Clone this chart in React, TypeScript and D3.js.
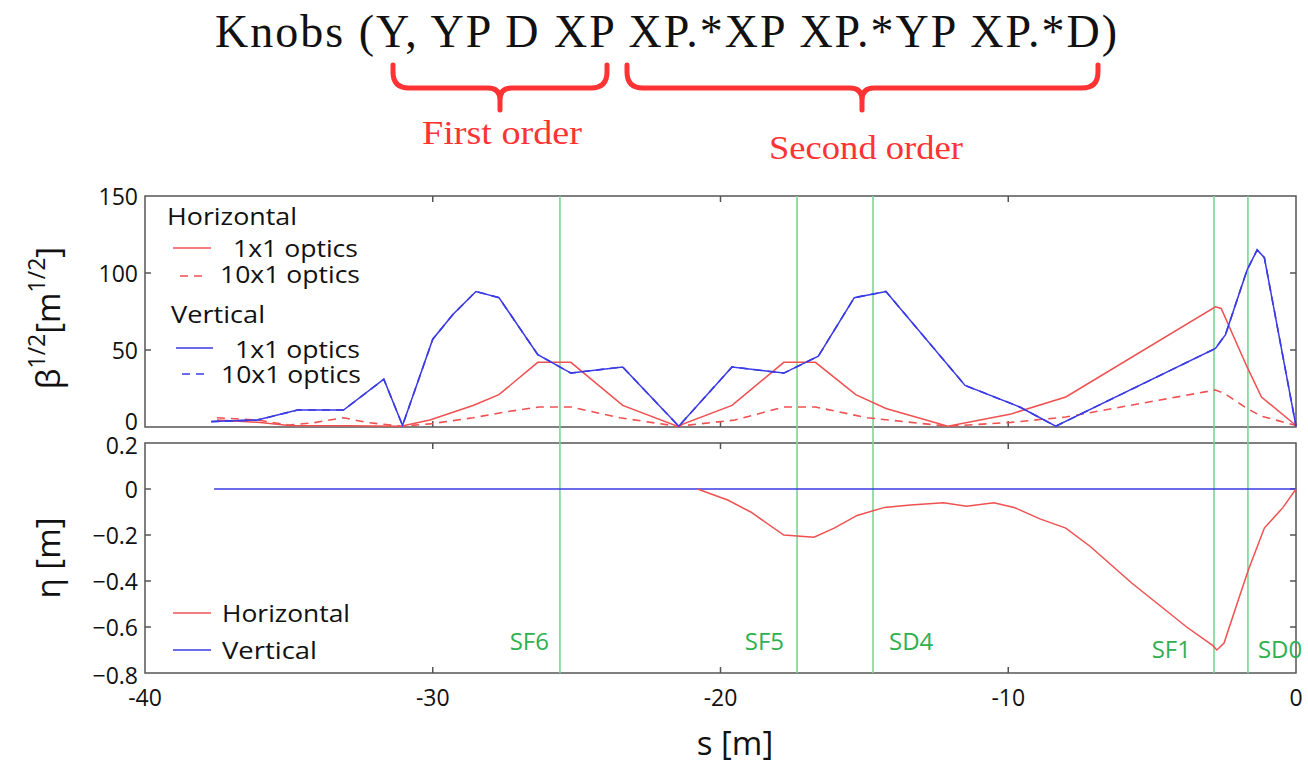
import React from "react";
import * as d3 from "d3";

// s positions [m] and square-root beta functions [m^1/2]
const betaX1x1: [number, number][] = [
  [-37.5, 4.5], [-36.0, 3], [-35.0, 1], [-33.0, 0.8], [-31.1, 0.5], [-30.1, 4.5],
  [-28.6, 14], [-27.7, 21], [-26.35, 42], [-25.2, 42], [-23.4, 14], [-21.5, 0.5],
  [-19.6, 14], [-17.8, 42], [-16.7, 42], [-15.3, 21], [-14.25, 12], [-12.1, 0.5],
  [-9.9, 8.5], [-8.0, 19.5], [-2.8, 78], [-2.6, 77], [-1.7, 39], [-1.2, 19.5], [0, 1],
];

const betaX10x1: [number, number][] = [
  [-37.5, 6], [-36.1, 4.5], [-35.0, 1.3], [-34.2, 2.6], [-33.1, 6], [-32.3, 3],
  [-31.1, 0.5], [-30.1, 2], [-28.6, 6], [-27.4, 10], [-26.3, 13], [-25.2, 13],
  [-23.5, 6], [-21.5, 0.5], [-19.5, 4.5], [-17.8, 13], [-16.7, 13], [-14.9, 6],
  [-12.1, 0.5], [-9.9, 3], [-8.0, 6.5], [-2.8, 24], [-2.5, 22], [-1.7, 12],
  [-1.2, 7], [0, 1],
];

const betaY1x1: [number, number][] = [
  [-37.7, 3.5], [-36.1, 4.5], [-34.7, 11], [-33.1, 11], [-31.7, 31], [-31.05, 1],
  [-30.0, 57], [-29.3, 73], [-28.5, 88], [-27.7, 84], [-26.35, 47], [-25.2, 35],
  [-23.4, 39], [-21.45, 0.5], [-19.6, 39], [-17.8, 35], [-16.6, 46], [-15.35, 84],
  [-14.25, 88], [-11.5, 27], [-9.6, 13], [-8.35, 0.5], [-2.8, 51], [-2.45, 60],
  [-1.7, 102], [-1.35, 115], [-1.1, 110], [0, 0.5],
];

// the vertical optics is unchanged between the two configurations
const betaY10x1: [number, number][] = betaY1x1;

// dispersion [m]
const etaX: [number, number][] = [
  [-20.8, 0], [-19.75, -0.048], [-18.95, -0.1], [-17.8, -0.2], [-16.75, -0.21],
  [-16.05, -0.17], [-15.25, -0.115], [-14.3, -0.08], [-13.4, -0.07], [-12.25, -0.06],
  [-11.45, -0.075], [-10.5, -0.06], [-9.8, -0.08], [-8.9, -0.13], [-8.0, -0.17],
  [-7.15, -0.25], [-5.7, -0.41], [-3.8, -0.6], [-2.9, -0.68], [-2.75, -0.7],
  [-2.5, -0.67], [-2.0, -0.48], [-1.65, -0.35], [-1.1, -0.17], [-0.45, -0.08], [0, 0],
];

const etaY: [number, number][] = [[-37.6, 0], [0, 0]];

// sextupole locations
const magnetNames = ["SF6", "SF5", "SD4", "SF1", "SD0"];
const magnetS = [-25.58, -17.34, -14.7, -2.85, -1.67];

const sTicks = [-40, -30, -20, -10, 0];
const betaTicks = [0, 50, 100, 150];
const etaTicks = [-0.8, -0.6, -0.4, -0.2, 0, 0.2];

// label placement for the magnet names (dx from the line, anchor, baseline)
const magnetLabelLayout = [
  { dx: -11, anchor: "end", y: 650 },
  { dx: -13, anchor: "end", y: 650 },
  { dx: 16, anchor: "start", y: 650 },
  { dx: -23, anchor: "end", y: 658 },
  { dx: 10, anchor: "start", y: 658 },
];

const RED = "#f05050";
const BLUE = "#3a3ae6";
const GREEN = "#7dd395";
const GREEN_TEXT = "#2fb050";
const BRACE_RED = "#ff3333";
const FRAME = "#555";
const SANS = "'Open Sans', Lato, sans-serif";
const SERIF = "'Liberation Serif', 'DejaVu Serif', serif";

function bracePath(x1: number, x2: number, xm: number, y0: number, yMid: number, yTip: number) {
  const r = 16;
  const r2 = 12;
  return [
    `M${x1},${y0}`,
    `L${x1},${yMid - r}`,
    `Q${x1},${yMid} ${x1 + r},${yMid}`,
    `L${xm - r2},${yMid}`,
    `Q${xm},${yMid} ${xm},${yMid + r2}`,
    `L${xm},${yTip}`,
    `M${xm},${yMid + r2}`,
    `Q${xm},${yMid} ${xm + r2},${yMid}`,
    `L${x2 - r},${yMid}`,
    `Q${x2},${yMid} ${x2},${yMid - r}`,
    `L${x2},${y0}`,
  ].join(" ");
}

export default function App() {
  const left = 145;
  const right = 1296;
  const topT = 196;
  const topB = 427;
  const botT = 443;
  const botB = 673;

  const x = d3.scaleLinear().domain([-40, 0]).range([left, right]);
  const yTop = d3.scaleLinear().domain([0, 150]).range([topB, topT]);
  const yBot = d3.scaleLinear().domain([-0.8, 0.2]).range([botB, botT]);

  const lineTop = d3.line<[number, number]>().x((d) => x(d[0])).y((d) => yTop(d[1]));
  const lineBot = d3.line<[number, number]>().x((d) => x(d[0])).y((d) => yBot(d[1]));

  const tickLen = 6;
  const innerS = sTicks.filter((t) => t > -40 && t < 0);

  // edge labels of the two stacked panels are nudged apart
  const betaLabelY = (t: number) => yTop(t) + (t === 0 ? -6 : 0);
  const etaLabelY = (t: number) => yBot(t) + (t === 0.2 ? 2 : t === -0.8 ? 2 : 0);

  return (
    <svg
      width={1308}
      height={765}
      style={{ position: "absolute", left: 0, top: 0, background: "#fff" }}
    >
      {/* title with brace annotations */}
      <text x={215} y={47} fontFamily={SERIF} fontSize={46} textLength={902} lengthAdjust="spacing" fill="#111">
        Knobs (Y, YP D XP XP.*XP XP.*YP XP.*D)
      </text>
      <path d={bracePath(393, 607, 500, 65, 88, 110)} fill="none" stroke={BRACE_RED} strokeWidth={5} strokeLinecap="round" strokeLinejoin="round" />
      <path d={bracePath(627, 1098, 862, 65, 88, 110)} fill="none" stroke={BRACE_RED} strokeWidth={5} strokeLinecap="round" strokeLinejoin="round" />
      <text x={422} y={144} fontFamily={SERIF} fontSize={34} textLength={160} lengthAdjust="spacingAndGlyphs" fill={BRACE_RED}>
        First order
      </text>
      <text x={769} y={159} fontFamily={SERIF} fontSize={34} textLength={194} lengthAdjust="spacingAndGlyphs" fill={BRACE_RED}>
        Second order
      </text>

      {/* frames */}
      <rect x={left} y={topT} width={right - left} height={topB - topT} fill="none" stroke={FRAME} strokeWidth={1.5} />
      <rect x={left} y={botT} width={right - left} height={botB - botT} fill="none" stroke={FRAME} strokeWidth={1.5} />

      {/* ticks */}
      {innerS.map((t) => (
        <g key={"st" + t} stroke={FRAME} strokeWidth={1.5}>
          <line x1={x(t)} x2={x(t)} y1={topT} y2={topT + tickLen} />
          <line x1={x(t)} x2={x(t)} y1={topB} y2={topB - tickLen} />
          <line x1={x(t)} x2={x(t)} y1={botT} y2={botT + tickLen} />
          <line x1={x(t)} x2={x(t)} y1={botB} y2={botB - tickLen} />
        </g>
      ))}
      {betaTicks.slice(1, -1).map((t) => (
        <g key={"bt" + t} stroke={FRAME} strokeWidth={1.5}>
          <line x1={left} x2={left + tickLen} y1={yTop(t)} y2={yTop(t)} />
          <line x1={right} x2={right - tickLen} y1={yTop(t)} y2={yTop(t)} />
        </g>
      ))}
      {etaTicks.slice(1, -1).map((t) => (
        <g key={"et" + t} stroke={FRAME} strokeWidth={1.5}>
          <line x1={left} x2={left + tickLen} y1={yBot(t)} y2={yBot(t)} />
          <line x1={right} x2={right - tickLen} y1={yBot(t)} y2={yBot(t)} />
        </g>
      ))}

      {/* tick labels */}
      <g fontFamily={SANS} fontSize={23} fill="#111">
        {betaTicks.map((t) => (
          <text key={"bl" + t} x={left - 7} y={betaLabelY(t)} textAnchor="end" dominantBaseline="central">
            {t}
          </text>
        ))}
        {etaTicks.map((t) => (
          <text key={"el" + t} x={left - 7} y={etaLabelY(t)} textAnchor="end" dominantBaseline="central">
            {t === 0 ? "0" : d3.format(".1f")(t)}
          </text>
        ))}
        {sTicks.map((t) => (
          <text key={"sl" + t} x={x(t)} y={706} textAnchor="middle">
            {t}
          </text>
        ))}
      </g>

      {/* axis titles */}
      <text x={735} y={755} textAnchor="middle" fontFamily={SANS} fontSize={33} fill="#111">
        s [m]
      </text>
      <text transform="translate(60,558) rotate(-90)" textAnchor="middle" fontFamily={SANS} fontSize={33} fill="#111">
        η [m]
      </text>
      <text transform="translate(60,318) rotate(-90)" textAnchor="middle" fontFamily={SANS} fontSize={33} fill="#111">
        β<tspan fontSize={23} dy={-15}>1/2</tspan>
        <tspan dy={15}>[m</tspan>
        <tspan fontSize={23} dy={-15}>1/2</tspan>
        <tspan dy={15}>]</tspan>
      </text>

      {/* sextupole markers */}
      {magnetS.map((s, i) => (
        <g key={magnetNames[i]}>
          <line x1={x(s)} x2={x(s)} y1={topT} y2={botB} stroke={GREEN} strokeWidth={1.6} />
          <text
            x={x(s) + magnetLabelLayout[i].dx}
            y={magnetLabelLayout[i].y}
            textAnchor={magnetLabelLayout[i].anchor as any}
            fontFamily={SANS}
            fontSize={24}
            fill={GREEN_TEXT}
          >
            {magnetNames[i]}
          </text>
        </g>
      ))}

      {/* beta functions */}
      <path d={lineTop(betaX10x1) || ""} fill="none" stroke={RED} strokeWidth={1.6} strokeDasharray="8,6" />
      <path d={lineTop(betaX1x1) || ""} fill="none" stroke={RED} strokeWidth={1.5} />
      <path d={lineTop(betaY1x1) || ""} fill="none" stroke={BLUE} strokeWidth={1.5} />
      <path d={lineTop(betaY10x1) || ""} fill="none" stroke={BLUE} strokeWidth={1.6} strokeDasharray="8,6" />

      {/* dispersion */}
      <path d={lineBot(etaY) || ""} fill="none" stroke={BLUE} strokeWidth={1.5} />
      <path d={lineBot(etaX) || ""} fill="none" stroke={RED} strokeWidth={1.5} />

      {/* legend, upper panel */}
      <g fontFamily={SANS} fontSize={23} fill="#111">
        <text x={167} y={225} textLength={130} lengthAdjust="spacingAndGlyphs">Horizontal</text>
        <line x1={173} x2={211} y1={248} y2={248} stroke={RED} strokeWidth={1.5} />
        <text x={233} y={257} textLength={125} lengthAdjust="spacingAndGlyphs">1x1 optics</text>
        <line x1={180} x2={208} y1={276} y2={276} stroke={RED} strokeWidth={1.6} strokeDasharray="8,6" />
        <text x={220} y={283} textLength={140} lengthAdjust="spacingAndGlyphs">10x1 optics</text>
        <text x={171} y={323} textLength={94} lengthAdjust="spacingAndGlyphs">Vertical</text>
        <line x1={176} x2={213} y1={348} y2={348} stroke={BLUE} strokeWidth={1.5} />
        <text x={235} y={358} textLength={125} lengthAdjust="spacingAndGlyphs">1x1 optics</text>
        <line x1={182} x2={208} y1={374} y2={374} stroke={BLUE} strokeWidth={1.6} strokeDasharray="8,6" />
        <text x={221} y={383} textLength={140} lengthAdjust="spacingAndGlyphs">10x1 optics</text>
      </g>

      {/* legend, lower panel */}
      <g fontFamily={SANS} fontSize={23} fill="#111">
        <line x1={173} x2={211} y1={613} y2={613} stroke={RED} strokeWidth={1.5} />
        <text x={222} y={622} textLength={128} lengthAdjust="spacingAndGlyphs">Horizontal</text>
        <line x1={173} x2={211} y1={650} y2={650} stroke={BLUE} strokeWidth={1.5} />
        <text x={222} y={659} textLength={95} lengthAdjust="spacingAndGlyphs">Vertical</text>
      </g>
    </svg>
  );
}
